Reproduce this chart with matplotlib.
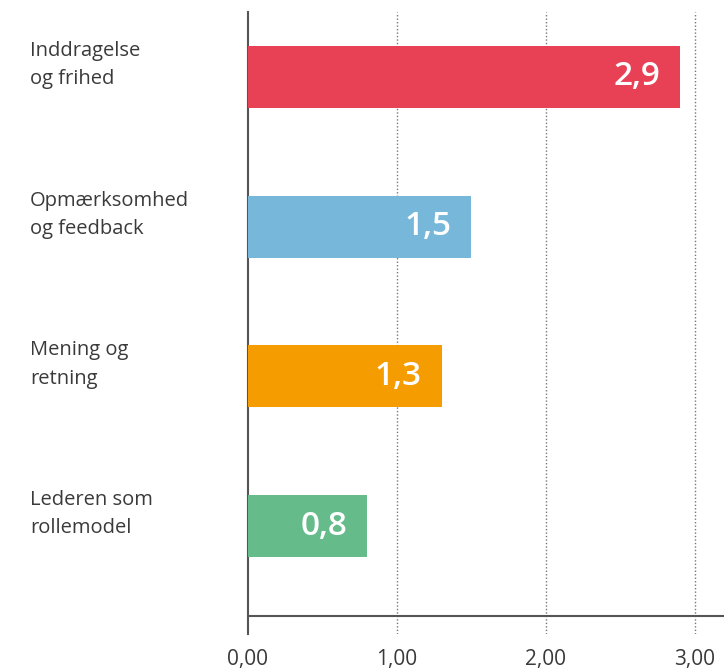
import matplotlib
matplotlib.use("Agg")
import matplotlib.pyplot as plt

categories = ["Inddragelse\nog frihed", "Opmærksomhed\nog feedback", "Mening og\nretning", "Lederen som\nrollemodel"]
values = [2.9, 1.5, 1.3, 0.8]
value_labels = ["2,9", "1,5", "1,3", "0,8"]
colors = ["#E84155", "#77B8DA", "#F49C00", "#65BB8A"]
xticks = [0, 1, 2, 3]
xtick_labels = ["0,00", "1,00", "2,00", "3,00"]

plt.rcParams['font.family'] = ['Open Sans', 'DejaVu Sans']
text_color = "#3a3a3a"

fig = plt.figure(figsize=(7.24, 6.71), dpi=100)
ax = fig.add_axes([248/724, 1-634/671, 1-248/724, (634-12)/671])

pos = list(range(len(categories)))
ax.barh(pos, values, height=0.414, color=colors, zorder=3)

ax.set_xlim(0, 3.195)
ax.set_ylim(3.72, -0.434)

for x in xticks[1:]:
    ax.axvline(x, color="#777777", linestyle=(0, (1, 1.5)), linewidth=1.0, zorder=1)
ax.axhline(3.60, color="#555555", linewidth=1.5, zorder=4)

for p, v, lab in zip(pos, values, value_labels):
    ax.annotate(lab, xy=(v, p), xytext=(-20, 0), textcoords="offset pixels",
                ha="right", va="center", color="white", fontsize=24, fontweight="semibold", zorder=5)

for p, c in zip(pos, categories):
    ax.annotate(c, xy=(0, p), xycoords=("axes fraction", "data"), xytext=(-218, 12),
                textcoords="offset pixels", ha="left", va="center", fontsize=14.5,
                color=text_color, linespacing=1.55, annotation_clip=False)

ax.set_yticks([])
ax.set_xticks(xticks)
ax.set_xticklabels(xtick_labels, fontsize=15, color=text_color)
ax.tick_params(axis="x", length=0, pad=11)

for s in ["top", "right", "bottom"]:
    ax.spines[s].set_visible(False)
ax.spines["left"].set_color("#555555")
ax.spines["left"].set_linewidth(1.5)

fig.savefig("out.png", dpi=100, facecolor="white")
